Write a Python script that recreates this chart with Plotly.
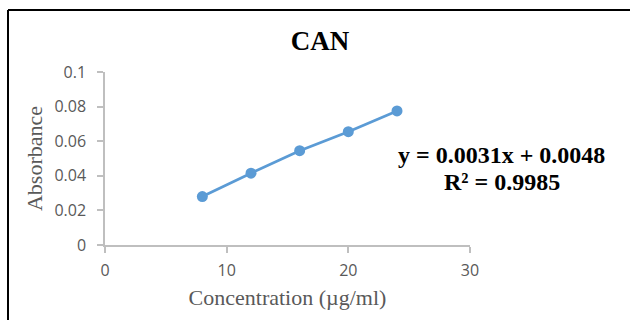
import plotly.graph_objects as go

concentration = [8, 12, 16, 20, 24]
absorbance = [0.028, 0.0415, 0.0545, 0.0655, 0.0775]
title_text = "CAN"
x_title = "Concentration (µg/ml)"
y_title = "Absorbance"
equation_text = "y = 0.0031x + 0.0048"
r2_text = "R² = 0.9985"
x_ticks = [0, 10, 20, 30]
y_ticks = [0, 0.02, 0.04, 0.06, 0.08, 0.1]
y_tick_labels = ["0", "0.02", "0.04", "0.06", "0.08", "0.1"]

W, H = 630, 320
L, R, T, B = 105, 160, 72, 75
pw, ph = W - L - R, H - T - B

def px(x):
    return (x - L) / pw

def py(y):
    return (H - B - y) / ph

grey = "#BFBFBF"
tick_font = dict(family="Open Sans, Liberation Sans, sans-serif", size=16, color="#595959")
serif = "Liberation Serif, Times New Roman, serif"

fig = go.Figure()
fig.add_trace(go.Scatter(
    x=concentration, y=absorbance, mode="lines+markers",
    line=dict(color="#5B9BD5", width=2.75),
    marker=dict(color="#5B9BD5", size=11),
    showlegend=False, cliponaxis=False,
))

fig.update_layout(
    width=W, height=H,
    margin=dict(l=L, r=R, t=T, b=B, pad=0),
    paper_bgcolor="white", plot_bgcolor="white",
    title=dict(text="<b>" + title_text + "</b>", x=px(320), xref="paper", xanchor="center",
               y=1 - 41 / H, yanchor="middle",
               font=dict(family=serif, size=27, color="black")),
    xaxis=dict(range=[0, 30], tickvals=x_ticks, showgrid=False, zeroline=False,
               showline=True, linecolor=grey, linewidth=1.5,
               ticks="outside", ticklen=6, tickcolor=grey, tickwidth=1.5,
               tickfont=tick_font, fixedrange=True, ticklabelstandoff=4,
               title=dict(text=x_title, font=dict(family=serif, size=22, color="#595959"), standoff=10)),
    yaxis=dict(range=[0, 0.1], tickvals=y_ticks, ticktext=y_tick_labels, showgrid=False, zeroline=False,
               showline=True, linecolor=grey, linewidth=1.5,
               ticks="outside", ticklen=6, tickcolor=grey, tickwidth=1.5,
               tickfont=tick_font, fixedrange=True, ticklabelstandoff=8,
               title=dict(text=y_title, font=dict(family=serif, size=22, color="#595959"), standoff=6)),
    shapes=[
        dict(type="line", xref="paper", yref="paper", x0=px(8), x1=px(640), y0=py(10), y1=py(10),
             line=dict(color="black", width=2)),
        dict(type="line", xref="paper", yref="paper", x0=px(8), x1=px(8), y0=py(10), y1=py(330),
             line=dict(color="black", width=2)),
    ],
    annotations=[
        dict(text="<b>" + equation_text + "</b>", xref="paper", yref="paper", x=px(501), y=py(155),
             xanchor="center", yanchor="middle", showarrow=False,
             font=dict(family=serif, size=24, color="black")),
        dict(text="<b>" + r2_text + "</b>", xref="paper", yref="paper", x=px(502), y=py(182),
             xanchor="center", yanchor="middle", showarrow=False,
             font=dict(family=serif, size=24, color="black")),
    ],
)

fig.write_html("out.html", config=dict(displayModeBar=False))
